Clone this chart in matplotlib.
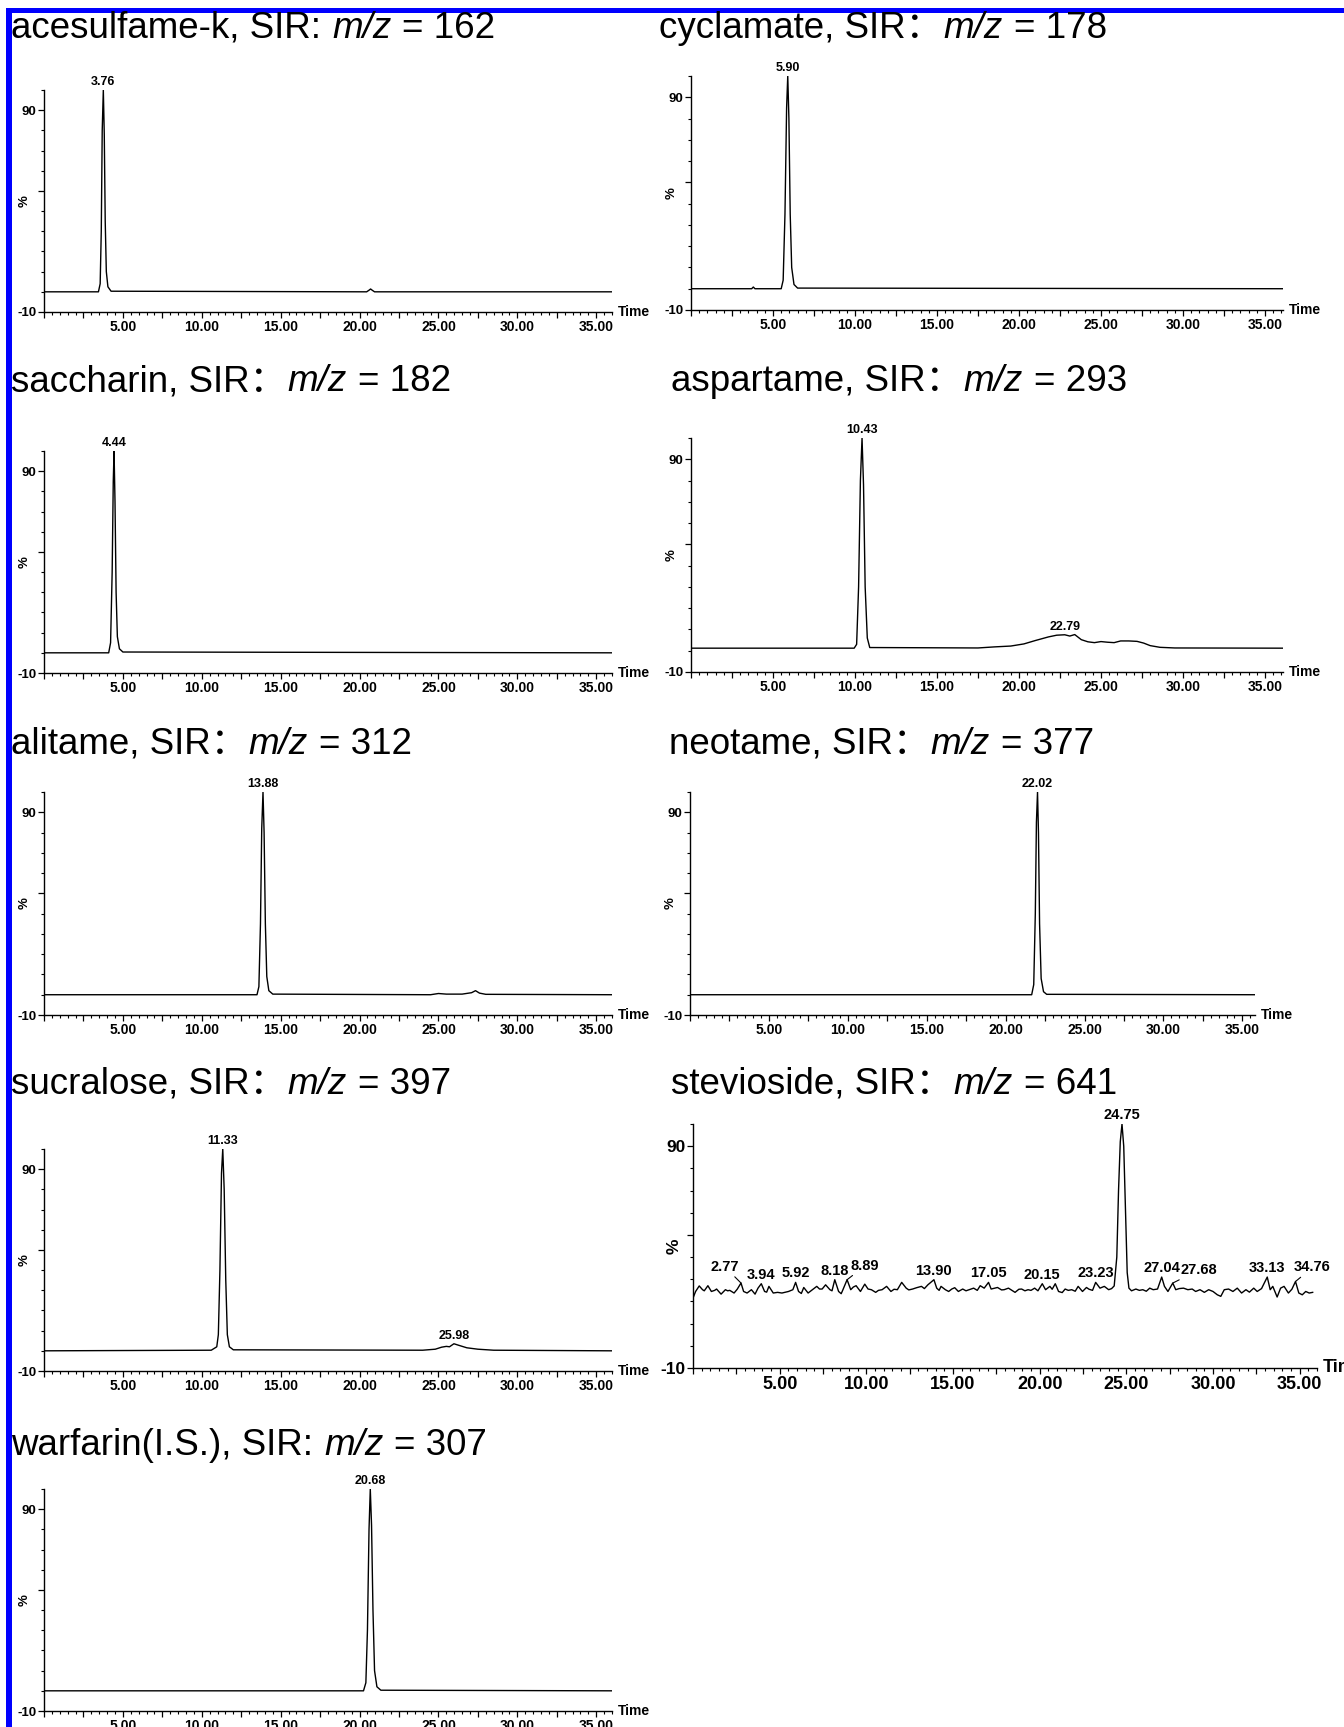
import matplotlib
matplotlib.use("Agg")
import matplotlib.pyplot as plt
from matplotlib.ticker import MultipleLocator, FixedLocator, FuncFormatter
from matplotlib.patches import Rectangle

plt.rcParams['font.family'] = ['Liberation Sans', 'Noto Sans CJK SC']
plt.rcParams['font.weight'] = 'bold'

W, H = 1344, 1727

# title pieces: compound + "SIR" part, italic m/z, value
title_head = [
    "acesulfame-k, SIR:", "cyclamate, SIR：", "saccharin, SIR：", "aspartame, SIR：",
    "alitame, SIR：", "neotame, SIR：", "sucralose, SIR：", "stevioside, SIR：",
    "warfarin(I.S.), SIR:",
]
title_mz = ["162", "178", "182", "293", "312", "377", "397", "641", "307"]

# retention time (min) / relative intensity (%)
acesulfame_t = [0, 3.45, 3.56, 3.63, 3.69, 3.76, 3.82, 3.88, 3.95, 4.05, 4.25, 20.45, 20.6, 20.7, 20.8, 20.95, 36]
acesulfame_y = [0, 0, 4, 30, 80, 100, 78, 35, 10, 2.5, 0.3, 0, 0.8, 1.4, 0.8, 0, 0]

cyclamate_t = [0, 3.7, 3.8, 3.9, 5.5, 5.62, 5.73, 5.83, 5.90, 5.97, 6.05, 6.14, 6.28, 6.5, 36.1]
cyclamate_y = [0, 0, 0.8, 0, 0, 4, 35, 85, 100, 80, 35, 10, 2, 0.3, 0]

saccharin_t = [0, 4.1, 4.22, 4.32, 4.39, 4.44, 4.50, 4.57, 4.65, 4.78, 5.0, 36]
saccharin_y = [0, 0, 5, 40, 85, 100, 75, 30, 8, 2, 0.4, 0]

aspartame_t = [0, 9.95, 10.1, 10.22, 10.33, 10.43, 10.52, 10.62, 10.75, 10.9, 17.5, 18.5, 19.5, 20.3,
               21.0, 21.8, 22.3, 22.79, 23.1, 23.4, 23.8, 24.2, 24.6, 25.0, 25.4, 25.8, 26.2, 26.7,
               27.2, 27.6, 28.0, 28.6, 29.5, 36.1]
aspartame_y = [1.2, 1.2, 3, 30, 80, 100, 78, 30, 6, 1.5, 1.3, 1.8, 2.2, 3.2,
               4.8, 6.5, 7.3, 7.5, 6.9, 7.6, 5.2, 4.2, 3.8, 4.3, 4.0, 3.8, 4.6, 4.6,
               4.4, 3.6, 2.4, 1.6, 1.3, 1.2]

alitame_t = [0, 13.5, 13.62, 13.72, 13.8, 13.88, 13.95, 14.03, 14.12, 14.25, 14.5, 24.5, 25.0, 25.5,
             26.5, 27.1, 27.35, 27.6, 28.0, 36]
alitame_y = [0, 0, 4, 35, 82, 100, 80, 35, 9, 2, 0.3, 0, 0.6, 0.3,
             0.3, 1.0, 2.0, 0.8, 0.2, 0]

neotame_t = [0, 21.65, 21.78, 21.88, 21.95, 22.02, 22.08, 22.15, 22.25, 22.4, 22.6, 35.8]
neotame_y = [0, 0, 5, 40, 85, 100, 80, 35, 8, 1.5, 0.2, 0]

sucralose_t = [0, 10.6, 10.85, 10.95, 11.05, 11.15, 11.25, 11.33, 11.42, 11.52, 11.62, 11.75, 12.0,
               24.0, 24.8, 25.2, 25.5, 25.7, 25.98, 26.3, 26.8, 27.5, 28.5, 36]
sucralose_y = [0, 0.3, 1.5, 2, 8, 40, 88, 100, 80, 35, 8, 2, 0.5,
               0.3, 0.8, 1.8, 2.2, 2.0, 3.5, 2.7, 1.5, 0.8, 0.3, 0]

stevioside_t = [0.0, 0.15, 0.36, 0.55, 0.65, 0.86, 1.06, 1.25, 1.36, 1.62, 1.87, 2.0, 2.12, 2.37, 2.55,
                2.77, 2.92, 3.12, 3.37, 3.58, 3.75, 3.94, 4.13, 4.25, 4.38, 4.63, 4.88, 5.13, 5.51,
                5.76, 5.92, 6.09, 6.25, 6.39, 6.64, 6.89, 7.14, 7.30, 7.45, 7.65, 7.90, 8.02, 8.18,
                8.40, 8.55, 8.65, 8.89, 9.10, 9.25, 9.41, 9.66, 9.91, 10.10, 10.29, 10.54, 10.70,
                10.91, 11.17, 11.42, 11.6, 11.79, 12.04, 12.30, 12.45, 12.67, 12.9, 13.18, 13.35,
                13.55, 13.90, 14.06, 14.20, 14.31, 14.56, 14.75, 14.93, 15.10, 15.31, 15.56, 15.75,
                15.94, 16.19, 16.40, 16.57, 16.80, 17.05, 17.20, 17.40, 17.57, 17.80, 17.95, 18.20,
                18.40, 18.58, 18.80, 18.96, 19.15, 19.33, 19.50, 19.71, 19.90, 20.15, 20.34, 20.59,
                20.72, 20.90, 21.09, 21.30, 21.47, 21.65, 21.85, 22.05, 22.22, 22.47, 22.70, 22.85,
                23.05, 23.23, 23.48, 23.73, 23.98, 24.15, 24.30, 24.45, 24.55, 24.65, 24.75, 24.85,
                24.95, 25.05, 25.15, 25.30, 25.55, 25.75, 25.95, 26.15, 26.35, 26.55, 26.80, 27.04,
                27.20, 27.40, 27.68, 27.85, 28.05, 28.30, 28.55, 28.80, 29.00, 29.25, 29.50, 29.75,
                30.0, 30.25, 30.45, 30.65, 30.90, 31.15, 31.40, 31.65, 31.90, 32.10, 32.35, 32.55,
                32.80, 33.13, 33.30, 33.45, 33.70, 33.90, 34.10, 34.35, 34.55, 34.76, 34.95, 35.15,
                35.35, 35.55, 35.75]
stevioside_y = [21.5, 24.5, 27.0, 25.3, 24.8, 27.1, 24.5, 25.0, 25.6, 23.3, 25.3, 24.8, 25.0, 23.8, 25.5,
                28.3, 24.5, 23.8, 25.3, 23.3, 26.0, 28.0, 24.5, 24.2, 26.8, 23.8, 24.1, 23.8, 24.5,
                25.3, 28.6, 24.5, 23.6, 26.3, 23.8, 25.3, 26.8, 25.6, 25.6, 27.5, 25.3, 24.8, 29.8,
                24.5, 23.5, 25.3, 29.8, 25.3, 26.5, 27.1, 24.5, 27.8, 25.6, 25.3, 24.1, 25.0,
                25.3, 26.8, 24.5, 25.5, 25.3, 28.6, 26.0, 25.2, 25.6, 26.2, 26.8, 25.8,
                27.5, 29.8, 26.0, 25.0, 26.8, 25.3, 24.5, 25.6, 26.2, 24.5, 25.6, 24.8,
                25.3, 26.0, 25.0, 27.1, 26.0, 28.6, 25.6, 26.0, 26.3, 25.2, 25.3, 26.0,
                25.0, 24.1, 25.5, 25.6, 24.8, 25.3, 25.0, 26.0, 24.8, 28.0, 25.3, 26.8,
                25.5, 28.0, 24.5, 24.0, 25.6, 25.0, 25.3, 24.6, 26.8, 24.5, 26.3, 25.5,
                25.0, 28.6, 26.0, 26.8, 25.3, 25.8, 27.0, 40, 70, 92, 100, 90,
                62, 33, 26, 24.8, 25.6, 25.0, 25.3, 24.6, 26.0, 25.3, 25.6, 31.0,
                26.8, 24.5, 28.3, 25.3, 25.8, 26.0, 25.3, 25.6, 24.5, 25.3, 24.1, 25.3,
                24.5, 23.0, 22.3, 25.3, 25.6, 24.5, 26.0, 23.8, 25.3, 24.2, 26.0, 24.5,
                25.8, 31.0, 25.3, 26.8, 22.0, 26.0, 26.8, 23.8, 25.5, 29.0, 23.8, 23.0,
                24.5, 23.8, 24.1]

warfarin_t = [0, 20.25, 20.4, 20.5, 20.6, 20.68, 20.76, 20.85, 20.95, 21.1, 21.35, 36]
warfarin_y = [0, 0, 4, 30, 80, 100, 82, 40, 10, 2, 0.3, 0]

traces_t = [acesulfame_t, cyclamate_t, saccharin_t, aspartame_t, alitame_t,
            neotame_t, sucralose_t, stevioside_t, warfarin_t]
traces_y = [acesulfame_y, cyclamate_y, saccharin_y, aspartame_y, alitame_y,
            neotame_y, sucralose_y, stevioside_y, warfarin_y]

# labelled peaks (retention times) per panel
peak_labels = [
    ["3.76"], ["5.90"], ["4.44"], ["10.43", "22.79"], ["13.88"], ["22.02"],
    ["11.33", "25.98"],
    ["2.77", "3.94", "5.92", "8.18", "8.89", "13.90", "17.05", "20.15", "23.23",
     "24.75", "27.04", "27.68", "33.13", "34.76"],
    ["20.68"],
]

# pixel layout: left, top, right, bottom, xmax, title x, title baseline
layout = [
    (44, 90, 612, 312, 36.0, 11, 38),
    (691, 76, 1283, 310, 36.1, 659, 38),
    (44, 451, 612, 673, 36.0, 11, 391),
    (691, 438, 1283, 672, 36.1, 671, 391),
    (44, 792, 612, 1015, 36.0, 11, 754),
    (690, 792, 1255, 1015, 35.8, 669, 754),
    (44, 1149, 612, 1371, 36.0, 11, 1094),
    (693, 1124, 1317, 1368, 36.0, 671, 1094),
    (44, 1489, 612, 1711, 36.0, 11, 1455),
]
# leader-line offsets (pixels) for the crowded stevioside labels
leaders = {"2.77": (-16, 9), "8.89": (18, 7), "27.68": (26, 6), "34.76": (17, 7)}

fig = plt.figure(figsize=(W / 100, H / 100), dpi=100)
renderer = fig.canvas.get_renderer()

xfmt = FuncFormatter(lambda v, p: "%.2f" % v if v > 0 and abs(v / 5 - round(v / 5)) < 1e-6 else "")
TITLE_FS = 26.5


def draw_title(x, base, head, mz):
    y = 1 - base / H
    t = fig.text(x / W, y, head, fontsize=TITLE_FS, fontweight='normal', ha='left', va='baseline')
    x1 = t.get_window_extent(renderer).x1
    gap = 1 if head.endswith("：") else 11
    t = fig.text((x1 + gap) / W, y, "m/z", fontsize=TITLE_FS, fontweight='normal',
                 style='italic', ha='left', va='baseline')
    x1 = t.get_window_extent(renderer).x1
    fig.text((x1 + 11) / W, y, "= " + mz, fontsize=TITLE_FS, fontweight='normal',
             ha='left', va='baseline')


for i in range(9):
    left, top, right, bottom, xmax, tx, tb = layout[i]
    ax = fig.add_axes([left / W, 1 - bottom / H, (right - left) / W, (bottom - top) / H])
    big = (i == 7)
    fs_peak = 10.5 if big else 9
    fs_tick = 13 if big else 10
    ax.plot(traces_t[i], traces_y[i], color='black', lw=1.0)
    ax.set_xlim(0, xmax)
    ax.set_ylim(-10, 100)
    for s in ['top', 'right']:
        ax.spines[s].set_visible(False)
    for s in ['left', 'bottom']:
        ax.spines[s].set_linewidth(1.0)
    ax.xaxis.set_major_locator(MultipleLocator(2.5))
    ax.xaxis.set_minor_locator(MultipleLocator(0.5))
    ax.xaxis.set_major_formatter(xfmt)
    ax.yaxis.set_major_locator(FixedLocator([-10, 50, 90]))
    ax.yaxis.set_major_formatter(FuncFormatter(lambda v, p: "" if v == 50 else "%d" % v))
    ax.yaxis.set_minor_locator(MultipleLocator(10))
    ax.tick_params(which='major', direction='out', length=4, width=0.9, pad=1.5)
    ax.tick_params(axis='x', which='major', labelsize=fs_tick)
    ax.tick_params(axis='y', which='major', labelsize=fs_tick - 0.5)
    ax.tick_params(which='minor', direction='out', length=2.2, width=0.8)
    ax.text(-19 / (right - left), 0.5, "%", rotation=90, transform=ax.transAxes,
            ha='center', va='center', fontsize=fs_tick - 0.5)
    ax.text(1 + 6 / (right - left), 0, "Time", transform=ax.transAxes,
            ha='left', va='center', fontsize=fs_tick)

    ts, ys = traces_t[i], traces_y[i]
    for lab in peak_labels[i]:
        t = float(lab)
        # intensity at the labelled retention time
        j = min(range(len(ts)), key=lambda k: abs(ts[k] - t))
        h = ys[j]
        if lab in leaders and big:
            dx, dy = leaders[lab]
            ax.annotate(lab, xy=(t, h), xytext=(dx, dy), textcoords='offset pixels',
                        ha='center', va='bottom', fontsize=fs_peak, annotation_clip=False,
                        arrowprops=dict(arrowstyle='-', lw=0.8, color='black',
                                        shrinkA=0, shrinkB=0))
        else:
            ax.annotate(lab, xy=(t, h), xytext=(0, 2), textcoords='offset pixels',
                        ha='center', va='bottom', fontsize=fs_peak, annotation_clip=False)

    draw_title(tx, tb, title_head[i], title_mz[i])

# blue frame on the left and top edges
fig.add_artist(Rectangle((6 / W, 0), 6 / W, (H - 8) / H, transform=fig.transFigure,
                         facecolor='#0000ff', edgecolor='none'))
fig.add_artist(Rectangle((6 / W, 1 - 13 / H), (W - 6) / W, 5 / H, transform=fig.transFigure,
                         facecolor='#0000ff', edgecolor='none'))

fig.savefig("out.png", dpi=100)
